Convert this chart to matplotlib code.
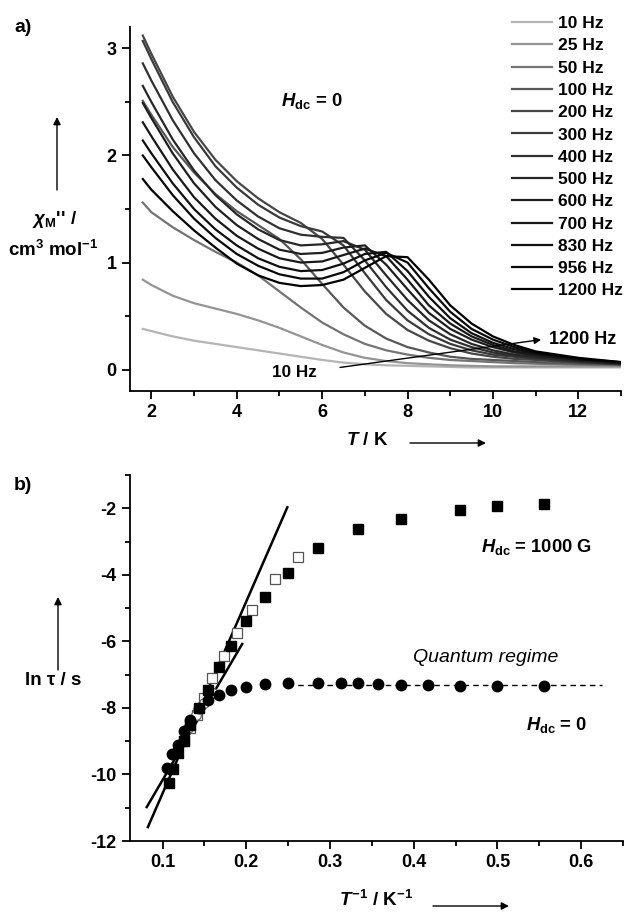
import numpy as np
import matplotlib
matplotlib.use("Agg")
import matplotlib.pyplot as plt
from matplotlib.patches import FancyArrowPatch
from matplotlib.ticker import MultipleLocator

plt.rcParams["font.family"] = ["Liberation Sans", "DejaVu Sans"]
plt.rcParams["font.weight"] = "bold"
plt.rcParams["axes.unicode_minus"] = False
plt.rcParams["mathtext.fontset"] = "custom"
plt.rcParams["mathtext.it"] = "Liberation Sans:italic:bold"
plt.rcParams["mathtext.rm"] = "Liberation Sans:bold"
plt.rcParams["mathtext.bf"] = "Liberation Sans:bold"

# ---- panel a: chi'' vs T at several frequencies ----
temps = [1.8, 2.0, 2.5, 3.0, 3.5, 4.0, 4.5, 5.0, 5.5, 6.0, 6.5, 7.0, 7.5,
         8.0, 8.5, 9.0, 9.5, 10.0, 10.5, 11.0, 12.0, 13.0]

freq_labels = ["10 Hz", "25 Hz", "50 Hz", "100 Hz", "200 Hz", "300 Hz", "400 Hz",
               "500 Hz", "600 Hz", "700 Hz", "830 Hz", "956 Hz", "1200 Hz"]

chi_10 = [0.38, 0.36, 0.31, 0.27, 0.24, 0.21, 0.18, 0.15, 0.12, 0.09, 0.065, 0.05, 0.04,
          0.035, 0.03, 0.025, 0.02, 0.02, 0.02, 0.02, 0.02, 0.02]
chi_25 = [0.84, 0.79, 0.69, 0.62, 0.57, 0.52, 0.46, 0.39, 0.31, 0.23, 0.16, 0.11, 0.08,
          0.06, 0.05, 0.04, 0.035, 0.03, 0.03, 0.03, 0.03, 0.03]
chi_50 = [1.56, 1.47, 1.33, 1.21, 1.10, 1.00, 0.88, 0.73, 0.58, 0.44, 0.33, 0.24, 0.18,
          0.14, 0.11, 0.09, 0.08, 0.07, 0.06, 0.055, 0.045, 0.04]
chi_100 = [2.51, 2.38, 2.08, 1.84, 1.64, 1.48, 1.35, 1.22, 1.03, 0.80, 0.58, 0.41, 0.29,
           0.21, 0.16, 0.12, 0.10, 0.09, 0.08, 0.07, 0.055, 0.045]
chi_200 = [3.12, 2.95, 2.55, 2.22, 1.96, 1.76, 1.60, 1.47, 1.37, 1.22, 0.98, 0.73, 0.52,
           0.37, 0.27, 0.20, 0.15, 0.12, 0.10, 0.09, 0.065, 0.05]
chi_300 = [3.07, 2.90, 2.50, 2.17, 1.90, 1.70, 1.54, 1.42, 1.34, 1.29, 1.16, 0.90, 0.65,
           0.46, 0.33, 0.24, 0.18, 0.14, 0.12, 0.10, 0.07, 0.05]
chi_400 = [2.86, 2.70, 2.33, 2.02, 1.77, 1.58, 1.43, 1.32, 1.26, 1.24, 1.23, 1.02, 0.77,
           0.55, 0.39, 0.28, 0.21, 0.16, 0.13, 0.11, 0.075, 0.05]
chi_500 = [2.65, 2.50, 2.15, 1.86, 1.63, 1.45, 1.31, 1.21, 1.16, 1.17, 1.20, 1.12, 0.88,
           0.65, 0.46, 0.33, 0.24, 0.18, 0.14, 0.12, 0.08, 0.055]
chi_600 = [2.49, 2.35, 2.02, 1.74, 1.52, 1.35, 1.22, 1.12, 1.08, 1.09, 1.14, 1.16, 0.98,
           0.75, 0.53, 0.38, 0.28, 0.21, 0.16, 0.13, 0.09, 0.06]
chi_700 = [2.31, 2.18, 1.87, 1.61, 1.41, 1.25, 1.13, 1.04, 1.00, 1.01, 1.07, 1.13, 1.06,
           0.84, 0.60, 0.43, 0.31, 0.23, 0.17, 0.14, 0.09, 0.06]
chi_830 = [2.14, 2.02, 1.74, 1.50, 1.31, 1.16, 1.04, 0.96, 0.92, 0.93, 0.99, 1.08, 1.10,
           0.92, 0.68, 0.48, 0.34, 0.25, 0.19, 0.15, 0.10, 0.065]
chi_956 = [2.00, 1.89, 1.63, 1.41, 1.23, 1.08, 0.97, 0.89, 0.85, 0.85, 0.91, 1.02, 1.09,
           1.00, 0.76, 0.54, 0.38, 0.28, 0.21, 0.16, 0.10, 0.07]
chi_1200 = [1.78, 1.68, 1.48, 1.30, 1.14, 0.99, 0.88, 0.81, 0.78, 0.79, 0.84, 0.95, 1.06,
            1.05, 0.84, 0.60, 0.43, 0.31, 0.23, 0.17, 0.11, 0.07]

chi_curves = [chi_10, chi_25, chi_50, chi_100, chi_200, chi_300, chi_400,
              chi_500, chi_600, chi_700, chi_830, chi_956, chi_1200]
curve_colors = ["#b4b4b4", "#949494", "#747474", "#585858", "#474747", "#3a3a3a", "#303030",
                "#272727", "#1f1f1f", "#181818", "#101010", "#080808", "#000000"]

# ---- panel b: ln tau vs 1/T ----
invT_1000G = [0.107, 0.112, 0.118, 0.125, 0.133, 0.143, 0.154, 0.167, 0.182, 0.200,
              0.222, 0.250, 0.286, 0.333, 0.385, 0.455, 0.500, 0.556]
lntau_1000G = [-10.25, -9.85, -9.35, -9.00, -8.50, -8.00, -7.45, -6.78, -6.15, -5.40,
               -4.67, -3.95, -3.20, -2.63, -2.33, -2.06, -1.94, -1.88]

invT_1000G_open = [0.125, 0.133, 0.141, 0.149, 0.159, 0.173, 0.189, 0.207, 0.234, 0.262]
lntau_1000G_open = [-9.00, -8.60, -8.20, -7.70, -7.10, -6.44, -5.75, -5.06, -4.13, -3.47]

invT_0 = [0.105, 0.111, 0.118, 0.125, 0.133, 0.143, 0.154, 0.167, 0.182, 0.200, 0.222,
          0.250, 0.286, 0.3125, 0.333, 0.357, 0.385, 0.417, 0.455, 0.500, 0.556]
lntau_0 = [-9.80, -9.40, -9.10, -8.70, -8.35, -8.00, -7.75, -7.60, -7.45, -7.37, -7.28,
           -7.25, -7.25, -7.25, -7.25, -7.27, -7.30, -7.30, -7.33, -7.33, -7.33]

invT_0_open = [0.120, 0.130, 0.140, 0.150, 0.160]
lntau_0_open = [-9.10, -8.60, -8.20, -7.85, -7.55]

fit_1000G_x = [0.0824, 0.249]
fit_1000G_y = [-11.58, -1.97]
fit_0_x = [0.081, 0.195]
fit_0_y = [-10.98, -6.08]
qtm_x = [0.25, 0.625]
qtm_y = [-7.30, -7.30]


def style_axes(ax):
    for side in ["top", "right"]:
        ax.spines[side].set_visible(False)
    for side in ["left", "bottom"]:
        ax.spines[side].set_linewidth(1.3)
    ax.tick_params(which="major", direction="out", length=6, width=1.3,
                   labelsize=13)
    ax.tick_params(which="minor", direction="out", length=3.5, width=1.3)
    for lab in ax.get_xticklabels() + ax.get_yticklabels():
        lab.set_fontweight("bold")


def fig_arrow(fig, start, end):
    # start/end in pixel coordinates measured from the top-left corner
    w, h = 624, 913
    fig.add_artist(FancyArrowPatch(
        (start[0] / w, 1 - start[1] / h), (end[0] / w, 1 - end[1] / h),
        transform=fig.transFigure, arrowstyle="-|>", color="black", lw=1.0,
        mutation_scale=11, shrinkA=0, shrinkB=0))


fig = plt.figure(figsize=(6.24, 9.13), dpi=100)

# panel a
ax1 = fig.add_axes([130 / 624, 1 - 391 / 913, 491 / 624, 364 / 913])
for vals, lab, col in zip(chi_curves, freq_labels, curve_colors):
    ax1.plot(temps, vals, color=col, lw=1.6, label=lab)
ax1.set_xlim(1.5, 13)
ax1.set_ylim(-0.2, 3.2)
ax1.xaxis.set_major_locator(MultipleLocator(2))
ax1.xaxis.set_minor_locator(MultipleLocator(1))
ax1.yaxis.set_major_locator(MultipleLocator(1))
ax1.yaxis.set_minor_locator(MultipleLocator(0.5))
style_axes(ax1)

fig.legend(loc="upper left", bbox_to_anchor=(512 / 624, 1 - 16 / 913),
           frameon=False, fontsize=12.5, handlelength=2.3, handletextpad=0.35,
           labelspacing=0.41, borderpad=0, borderaxespad=0)

ax1.text(5.76, 2.51, r"$H_{\rm dc}$ = 0", fontsize=13.3, ha="center", va="center")
ax1.text(5.36, -0.03, "10 Hz", fontsize=12.3, ha="center", va="center")
ax1.text(12.1, 0.28, "1200 Hz", fontsize=13, ha="center", va="center")
ax1.annotate("", xy=(11.13, 0.28), xytext=(6.42, 0.02),
             arrowprops=dict(arrowstyle="-|>", color="black", lw=1.0,
                             mutation_scale=10, shrinkA=0, shrinkB=0))

# panel b
ax2 = fig.add_axes([130 / 624, 1 - 841 / 913, 493 / 624, 366 / 913])
ax2.plot(fit_1000G_x, fit_1000G_y, color="black", lw=1.8)
ax2.plot(fit_0_x, fit_0_y, color="black", lw=1.8)
ax2.plot(qtm_x, qtm_y, color="black", lw=1.0, ls=(0, (4, 3)))
ax2.plot(invT_1000G_open, lntau_1000G_open, ls="none", marker="s", ms=6.5,
         mfc="white", mec="#555555", mew=0.9)
ax2.plot(invT_0_open, lntau_0_open, ls="none", marker="o", ms=7,
         mfc="white", mec="#666666", mew=0.9)
ax2.plot(invT_1000G, lntau_1000G, ls="none", marker="s", ms=6.5, color="black")
ax2.plot(invT_0, lntau_0, ls="none", marker="o", ms=7.5, color="black")
ax2.set_xlim(0.061, 0.65)
ax2.set_ylim(-12, -1)
ax2.xaxis.set_major_locator(MultipleLocator(0.1))
ax2.xaxis.set_minor_locator(MultipleLocator(0.05))
ax2.yaxis.set_major_locator(MultipleLocator(2))
ax2.yaxis.set_minor_locator(MultipleLocator(1))
style_axes(ax2)

ax2.text(0.546, -3.17, r"$H_{\rm dc}$ = 1000 G", fontsize=13.2, ha="center", va="center")
ax2.text(0.486, -6.47, "Quantum regime", fontsize=14, fontweight="normal",
         style="italic", ha="center", va="center")
ax2.text(0.571, -8.52, r"$H_{\rm dc}$ = 0", fontsize=13.2, ha="center", va="center")

# panel letters, axis labels and arrows
fig.text(23 / 624, 1 - 27 / 913, "a)", fontsize=14, ha="center", va="center")
fig.text(23 / 624, 1 - 485 / 913, "b)", fontsize=14, ha="center", va="center")

fig.text(55 / 624, 1 - 220 / 913, r"$\chi_{\rm M}$'' /", fontsize=13.5, ha="center", va="center")
fig.text(53 / 624, 1 - 250 / 913, r"cm$^{3}$ mol$^{-1}$", fontsize=13.5, ha="center", va="center")
fig.text(367 / 624, 1 - 440 / 913, r"$T$ / K", fontsize=13.5, ha="center", va="center")
fig.text(53 / 624, 1 - 680 / 913, "ln τ / s", fontsize=13.5, ha="center", va="center")
fig.text(376 / 624, 1 - 900 / 913, r"$T^{-1}$ / K$^{-1}$", fontsize=13.5, ha="center", va="center")

fig_arrow(fig, (57, 190), (57, 117))
fig_arrow(fig, (410, 443), (486, 443))
fig_arrow(fig, (58, 670), (58, 597))
fig_arrow(fig, (433, 906), (509, 906))

fig.savefig("out.png", dpi=100)
